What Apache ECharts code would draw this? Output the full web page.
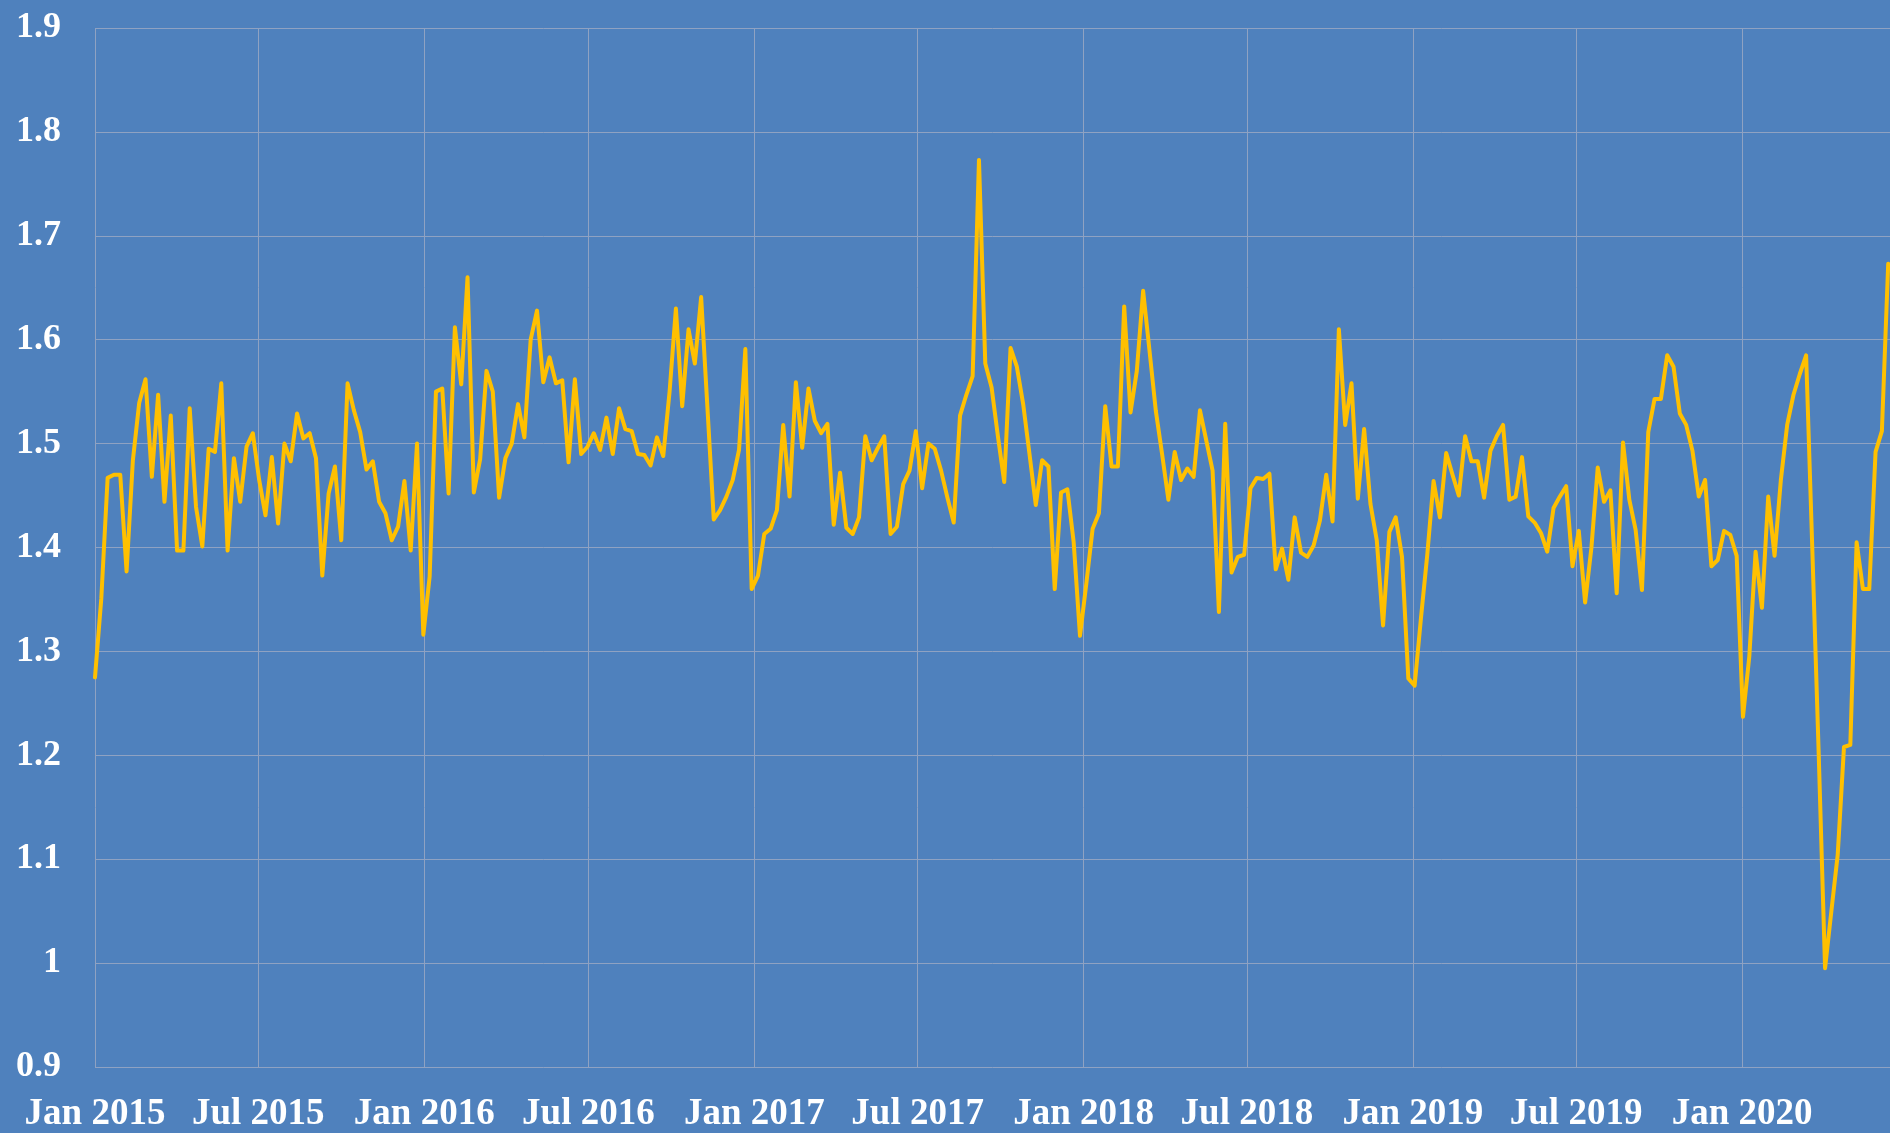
<!DOCTYPE html>
<html>
<head>
<meta charset="utf-8">
<script src="https://cdn.jsdelivr.net/npm/echarts@6/dist/echarts.min.js"></script>
<style>
html,body{margin:0;padding:0;background:#4f81bd;}
#chart{width:1890px;height:1133px;}
</style>
</head>
<body>
<div id="chart"></div>
<script>
// Weekly series, first observation on the start date
const startDate = [2015, 0, 1];
const weekValues = [
  1.275, 1.351, 1.467, 1.470, 1.470, 1.377, 1.484, 1.539, 1.562, 1.468,
  1.547, 1.444, 1.527, 1.397, 1.397, 1.534, 1.439, 1.401, 1.495, 1.492,
  1.558, 1.397, 1.486, 1.444, 1.497, 1.510, 1.465, 1.431, 1.487, 1.423,
  1.500, 1.483, 1.529, 1.505, 1.510, 1.486, 1.373, 1.452, 1.478, 1.407,
  1.558, 1.532, 1.511, 1.475, 1.483, 1.444, 1.433, 1.407, 1.420, 1.464,
  1.397, 1.500, 1.316, 1.372, 1.550, 1.553, 1.452, 1.612, 1.557, 1.660,
  1.453, 1.485, 1.570, 1.550, 1.448, 1.486, 1.500, 1.538, 1.506, 1.600,
  1.628, 1.559, 1.583, 1.558, 1.561, 1.482, 1.562, 1.490, 1.497, 1.510,
  1.494, 1.525, 1.490, 1.534, 1.514, 1.512, 1.490, 1.489, 1.479, 1.506,
  1.488, 1.550, 1.630, 1.536, 1.610, 1.577, 1.641, 1.534, 1.427, 1.436,
  1.449, 1.465, 1.494, 1.591, 1.360, 1.373, 1.413, 1.418, 1.436, 1.518,
  1.449, 1.559, 1.496, 1.553, 1.522, 1.510, 1.519, 1.422, 1.472, 1.419,
  1.413, 1.429, 1.507, 1.484, 1.496, 1.507, 1.413, 1.420, 1.461, 1.474,
  1.512, 1.457, 1.500, 1.495, 1.474, 1.448, 1.424, 1.527, 1.547, 1.565,
  1.773, 1.577, 1.554, 1.507, 1.463, 1.592, 1.574, 1.538, 1.490, 1.441,
  1.484, 1.478, 1.360, 1.453, 1.456, 1.405, 1.315, 1.365, 1.418, 1.433,
  1.536, 1.478, 1.478, 1.632, 1.530, 1.570, 1.647, 1.590, 1.532, 1.490,
  1.446, 1.492, 1.465, 1.476, 1.468, 1.532, 1.503, 1.474, 1.338, 1.519,
  1.376, 1.391, 1.393, 1.457, 1.467, 1.466, 1.471, 1.379, 1.399, 1.369,
  1.429, 1.395, 1.391, 1.402, 1.426, 1.470, 1.425, 1.610, 1.518, 1.558,
  1.447, 1.514, 1.442, 1.407, 1.325, 1.415, 1.429, 1.391, 1.274, 1.267,
  1.332, 1.393, 1.464, 1.429, 1.491, 1.470, 1.450, 1.507, 1.483, 1.483,
  1.448, 1.493, 1.507, 1.518, 1.446, 1.449, 1.487, 1.430, 1.424, 1.414,
  1.396, 1.438, 1.449, 1.459, 1.382, 1.416, 1.347, 1.400, 1.477, 1.444,
  1.455, 1.356, 1.501, 1.446, 1.417, 1.359, 1.511, 1.543, 1.543, 1.585,
  1.574, 1.529, 1.518, 1.493, 1.449, 1.465, 1.382, 1.388, 1.416, 1.412,
  1.392, 1.237, 1.295, 1.396, 1.342, 1.449, 1.392, 1.465, 1.518, 1.547,
  1.567, 1.585, 1.395, 1.200, 0.995, 1.050, 1.104, 1.208, 1.210, 1.405,
  1.360, 1.360, 1.492, 1.512, 1.673
];
// x-axis tick labels (half-yearly)
const tickLabels = ['Jan 2015','Jul 2015','Jan 2016','Jul 2016','Jan 2017','Jul 2017',
                    'Jan 2018','Jul 2018','Jan 2019','Jul 2019','Jan 2020'];
const yMin = 0.9, yMax = 1.9, yStep = 0.1;

const DAY = 86400000;
const t0 = Date.UTC(startDate[0], startDate[1], startDate[2]);
const seriesData = weekValues.map((v, i) => [t0 + i * 7 * DAY, v]);
const monthIdx = {Jan: 0, Jul: 6};
const tickTimes = tickLabels.map(s => {
  const [m, y] = s.split(' ');
  return Date.UTC(+y, monthIdx[m], 1);
});
const labelByTime = {};
tickTimes.forEach((t, i) => labelByTime[t] = tickLabels[i]);

const fontFam = '"Liberation Serif", "DejaVu Serif", serif';
const gridColor = '#8fa2c2';

const chart = echarts.init(document.getElementById('chart'), null, {renderer: 'canvas'});
chart.setOption({
  backgroundColor: '#4f81bd',
  animation: false,
  grid: {left: 95, right: 0, top: 28, bottom: 66, containLabel: false},
  xAxis: {
    type: 'value',
    min: seriesData[0][0],
    max: seriesData[seriesData.length - 1][0] + 2 * DAY,
    axisLine: {show: false},
    axisTick: {show: false, customValues: tickTimes},
    splitLine: {show: true, lineStyle: {color: gridColor, width: 1}},
    axisLabel: {
      customValues: tickTimes,
      formatter: v => labelByTime[v] || '',
      color: '#ffffff',
      fontFamily: fontFam,
      fontWeight: 'bold',
      fontSize: 37,
      margin: 29,
      hideOverlap: false
    }
  },
  yAxis: {
    type: 'value',
    min: yMin, max: yMax, interval: yStep,
    axisLine: {show: false},
    axisTick: {show: false},
    splitLine: {show: true, lineStyle: {color: gridColor, width: 1}},
    axisLabel: {
      formatter: v => String(parseFloat(v.toFixed(1))),
      color: '#ffffff',
      fontFamily: fontFam,
      fontWeight: 'bold',
      fontSize: 36,
      margin: 34
    }
  },
  series: [{
    type: 'line',
    data: seriesData,
    showSymbol: false,
    symbol: 'none',
    smooth: false,
    lineStyle: {color: '#ffc000', width: 4, join: 'round', cap: 'round'}
  }]
});
</script>
</body>
</html>
